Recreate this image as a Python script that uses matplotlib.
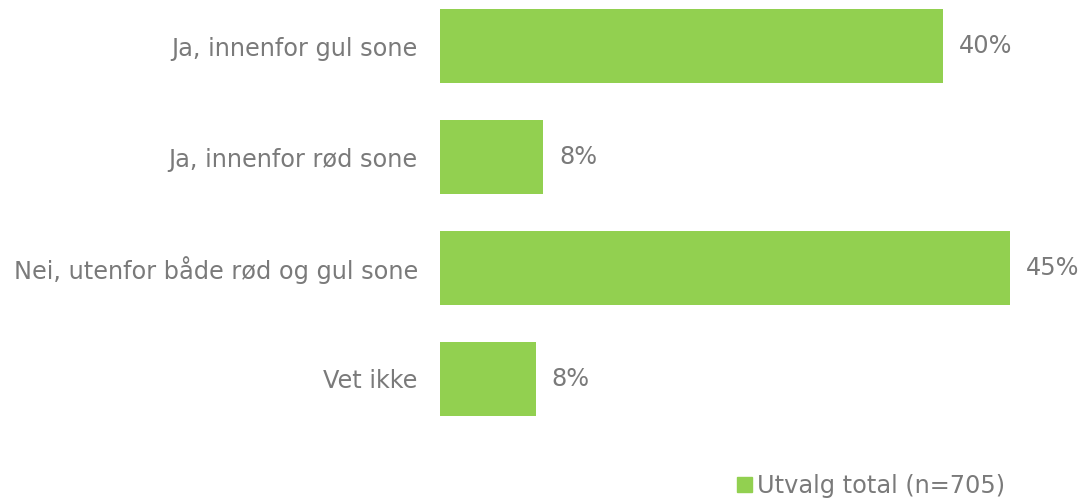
import matplotlib.pyplot as plt
from matplotlib.patches import Patch

# data
kategorier = ['Ja, innenfor gul sone', 'Ja, innenfor rød sone',
              'Nei, utenfor både rød og gul sone', 'Vet ikke']
verdier = [40.0, 8.2, 45.3, 7.6]
etiketter = ['40%', '8%', '45%', '8%']
serie_navn = 'Utvalg total (n=705)'

gronn = '#92D050'
gra = '#7A7A7A'
fs = 17.3

W, H = 1086, 499
fig = plt.figure(figsize=(W / 100, H / 100), dpi=100)

# axes placed in pixels: left edge at x=440, top at y=0, bottom at y=430
ax = fig.add_axes([440 / W, 1 - 430 / H, (W - 440) / W, 430 / H])

pos = list(range(len(kategorier)))
ax.barh(pos, verdier, height=0.667, color=gronn)

ax.set_xlim(0, (W - 440) / 12.58)
ax.set_ylim((430 - 46) / 111, -46 / 111)

ax.set_yticks(pos)
ax.set_yticklabels(kategorier, fontsize=fs, color=gra)
ax.tick_params(axis='y', length=0, pad=16)
ax.set_xticks([])
for s in ax.spines.values():
    s.set_visible(False)

for p, v, t in zip(pos, verdier, etiketter):
    ax.text(v + 16 / 12.58, p, t, va='center', ha='left', fontsize=fs, color=gra)

fig.legend(handles=[Patch(color=gronn, label=serie_navn)],
           loc='center', bbox_to_anchor=(871 / W, 1 - 486 / H),
           frameon=False, fontsize=fs, labelcolor=gra,
           handlelength=0.6, handleheight=0.6, handletextpad=0.2)

fig.savefig('out.png', dpi=100)
